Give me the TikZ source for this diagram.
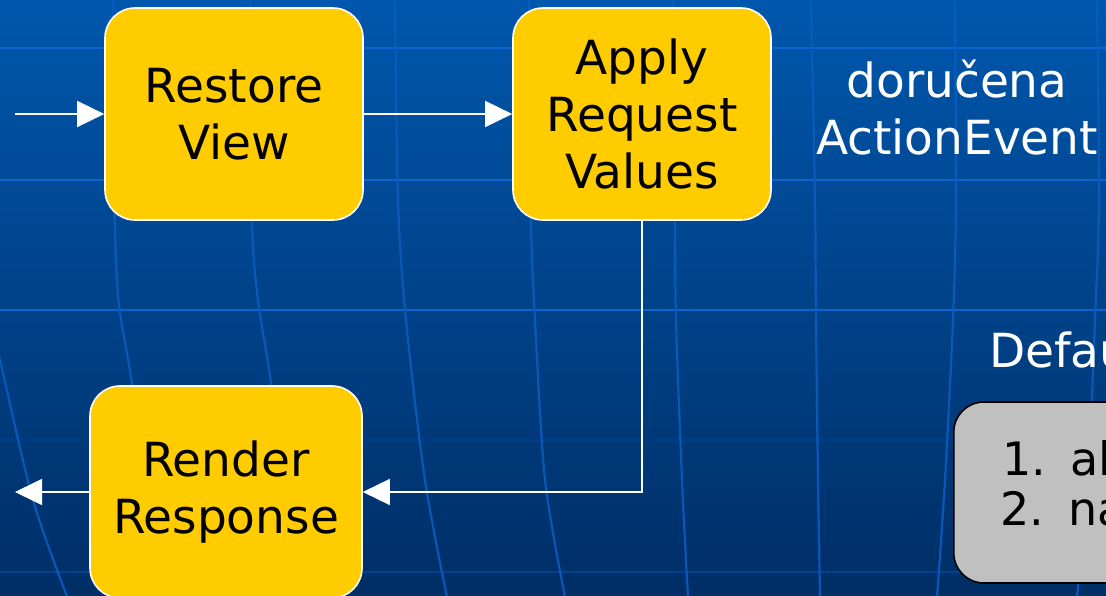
\documentclass[tikz,border=0pt]{standalone}
\usepackage{fontspec}
\setmainfont{DejaVu Sans}
\usetikzlibrary{arrows.meta}
\definecolor{bgtop}{RGB}{0,87,173}
\definecolor{bgbot}{RGB}{0,46,102}
\definecolor{gridhi}{RGB}{10,102,206}
\definecolor{gridlo}{RGB}{0,68,145}
\definecolor{gridv}{RGB}{10,92,192}
\definecolor{phase}{RGB}{255,204,0}
\definecolor{panel}{RGB}{192,192,192}

\begin{document}
\begin{tikzpicture}[x=1pt,y=1pt,
  phasebox/.style={draw=white, line width=1.6pt, fill=phase, rounded corners=30pt,
    minimum width=258pt, minimum height=212pt, inner sep=0pt, align=center,
    text=black, font=\fontsize{47}{57}\selectfont},
  panelbox/.style={draw=black, line width=1.6pt, fill=panel, rounded corners=30pt,
    minimum width=420pt, minimum height=181pt, inner sep=0pt},
  flow/.style={draw=white, line width=1.5pt, -{Triangle[length=27pt,width=26pt]}},
  caption/.style={text=white, inner sep=0pt, font=\fontsize{47}{57}\selectfont},
  listline/.style={text=black, inner sep=0pt, font=\fontsize{46}{50}\selectfont},
  hline/.style={line width=2.6pt},
  vline/.style={draw=gridv, line width=2.2pt, opacity=0.9}]

\useasboundingbox (0,0) rectangle (1106,595);
\clip (0,0) rectangle (1106,595);

% backdrop
\shade[top color=bgtop, bottom color=bgbot] (0,0) rectangle (1106,595);

% horizontal grid
\draw[hline, gridhi] (0,547) -- (1106,547);
\draw[hline, gridhi] (0,415) -- (1106,415);
\draw[hline, gridhi] (0,285) -- (1106,285);
\draw[hline, gridlo, opacity=0.6] (0,155) -- (1106,155);
\draw[hline, gridlo] (0,23) -- (1106,23);

% curved meridians
\draw[vline] plot[smooth] coordinates {(113,596) (114,420) (118,300) (132,212) (165,-2)};
\draw[vline] plot[smooth] coordinates {(250,596) (252,375) (258,295) (271,212) (300,-2)};
\draw[vline] plot[smooth] coordinates {(395,596) (398,395) (406,275) (425,115) (447,-2)};
\draw[vline] plot[smooth] coordinates {(529,596) (531,375) (535,275) (545,115) (565,-2)};
\draw[vline] plot[smooth] coordinates {(673,596) (675,375) (676,275) (682,115) (688,-2)};
\draw[vline] plot[smooth] coordinates {(811,596) (815,395) (816,275) (818,115) (820,-2)};
\draw[vline] plot[smooth] coordinates {(955,596) (956,395) (953,275) (945,115) (937,-2)};
\draw[vline] plot[smooth] coordinates {(1097,596) (1099,395) (1095,275) (1088,115) (1077,-2)};
\draw[vline] plot[smooth] coordinates {(-6,258) (0,235) (33,95) (68,-4)};

% lifecycle phases
\node[phasebox] (rv)  at (234,481) {Restore\\View};
\node[phasebox] (arv) at (642,481) {Apply\\Request\\Values};
\node[phasebox, minimum width=272pt] (rr) at (226,103) {Render\\Response};

% event note
\node[caption, anchor=base] (ev1) at (957,497) {doručena};
\node[caption, anchor=base] (ev2) at (957,440) {ActionEvent};
\node[caption, anchor=base west] (dl) at (989,227) {Defau};

% listener steps
\node[panelbox, anchor=west] (gbox) at (953,102.5) {};
\node[listline, anchor=base west] (s1) at (1002,120) {1.\hspace{24pt}al};
\node[listline, anchor=base west] (s2) at (1000,70) {2.\hspace{24pt}na};

% connectors
\coordinate (in)  at (15,481);
\coordinate (out) at (15,103);
\draw[flow] (in) -- (rv.west);
\draw[flow] (rv.east) -- (arv.west);
\draw[flow] (arv.south) |- (rr.east);
\draw[flow] (rr.west) -- (out);

\end{tikzpicture}
\end{document}
